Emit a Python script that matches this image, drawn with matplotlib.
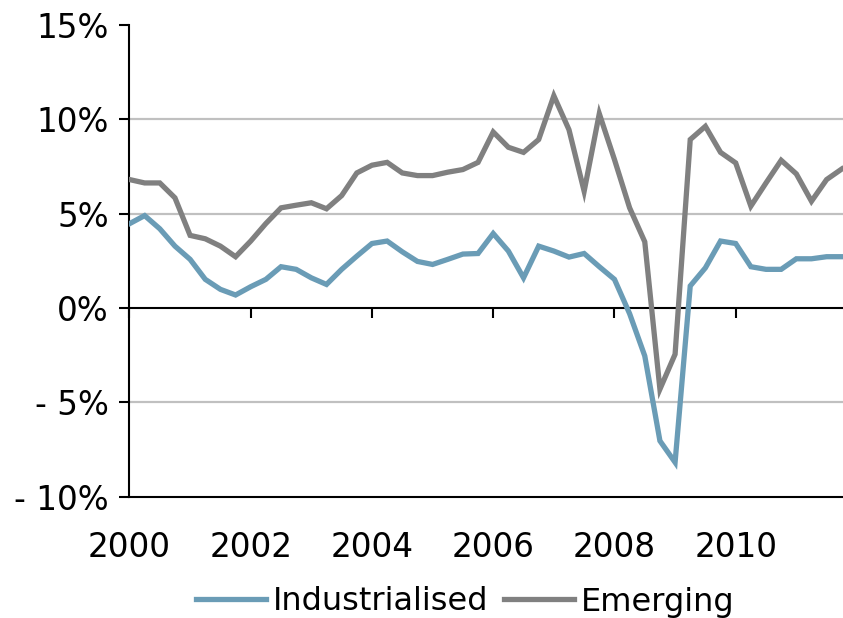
import matplotlib
matplotlib.use('Agg')
import matplotlib.pyplot as plt
import numpy as np

# quarterly growth, 2000Q1 - 2011Q4 (%)
industrialised = [4.47, 4.9, 4.2, 3.28, 2.58, 1.52, 0.99, 0.69, 1.13, 1.52, 2.19, 2.05,
                  1.6, 1.25, 2.05, 2.75, 3.42, 3.55, 2.98, 2.47, 2.31, 2.58, 2.86, 2.89,
                  3.95, 3.02, 1.6, 3.28, 3.02, 2.7, 2.89, 2.19, 1.52, -0.3, -2.54, -7.04,
                  -8.18, 1.17, 2.13, 3.55, 3.42, 2.19, 2.05, 2.05, 2.61, 2.61, 2.72, 2.72]
emerging = [6.81, 6.63, 6.63, 5.84, 3.85, 3.67, 3.28, 2.72, 3.55, 4.48, 5.31, 5.45,
            5.58, 5.26, 5.96, 7.16, 7.57, 7.72, 7.16, 7.02, 7.02, 7.2, 7.34, 7.72,
            9.33, 8.52, 8.25, 8.93, 11.25, 9.45, 6.19, 10.3, 7.87, 5.31, 3.51, -4.3,
            -2.45, 8.93, 9.63, 8.25, 7.69, 5.4, 6.63, 7.83, 7.11, 5.66, 6.81, 7.37]
years = 2000 + np.arange(len(industrialised)) / 4.0
xticks = [2000, 2002, 2004, 2006, 2008, 2010]
yticks = [-10, -5, 0, 5, 10, 15]

fig = plt.figure(figsize=(8.43, 6.18), dpi=100)
ax = fig.add_axes([0.1536, 0.1963, 1 - 0.1536, 0.9595 - 0.1963])

for g in [-5, 5, 10]:
    ax.axhline(g, color='#c0c0c0', lw=1.6, zorder=1)

ax.plot(years, industrialised, color='#6a9cb6', lw=3.8, label='Industrialised', zorder=3,
        solid_joinstyle='miter')
ax.plot(years, emerging, color='#808080', lw=3.8, label='Emerging', zorder=3,
        solid_joinstyle='miter')

ax.set_xlim(2000, 2011.77)
ax.set_ylim(-10, 15)
ax.set_yticks(yticks)
ax.set_yticklabels(['%d%%' % v if v >= 0 else '- %d%%' % -v for v in yticks], fontsize=23.5)
ax.set_xticks(xticks)
ax.set_xticklabels([str(x) for x in xticks], fontsize=23.5)
ax.tick_params(axis='x', length=0, pad=25)
ax.tick_params(axis='y', direction='out', length=7, width=1.5, pad=8)

for s in ['top', 'right']:
    ax.spines[s].set_visible(False)
ax.spines['left'].set_linewidth(1.5)
ax.spines['bottom'].set_linewidth(1.5)

# zero line with its tick marks
sec = ax.secondary_xaxis(0.4)
sec.set_xticks(xticks)
sec.set_xticklabels([])
sec.tick_params(direction='out', length=7.5, width=1.5)
sec.spines['bottom'].set_linewidth(1.5)

fig.legend(loc='center', bbox_to_anchor=(465 / 843, 1 - 602 / 618), ncol=2, frameon=False,
           fontsize=23, handlelength=2.2, handletextpad=0.2, columnspacing=0.5)

fig.savefig('out.png', dpi=100)
